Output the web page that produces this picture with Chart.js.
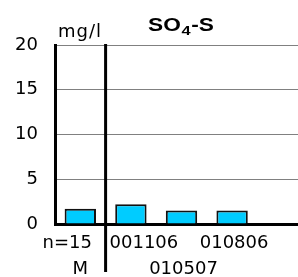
<!DOCTYPE html>
<html lang="de">
<head>
<meta charset="UTF-8">
<title>SO4-S</title>
<script src="https://cdn.jsdelivr.net/npm/chart.js"></script>
<style>
  html, body { margin: 0; padding: 0; background: #fff; overflow: hidden; }
  #wrap { width: 308px; height: 277px; }
</style>
</head>
<body>
<div id="wrap"><canvas id="grafico"></canvas></div>
<script>
// dados
const categorias = ['M', '001106', '010507', '010806', ''];
const linhasRotulo = [['n=15', 'M'], ['001106', ''], ['', '010507'], ['010806', ''], ['', '']];
const valoresSO4 = [1.7, 2.2, 1.5, 1.5, null];
const ticksY = [0, 5, 10, 15, 20];
const unidade = 'mg/l';

const fonte = "'DejaVu Sans', sans-serif";
const fonteTitulo = "'Liberation Sans', Arial, sans-serif";

// rótulos do eixo x, linha vertical, título
const desenhosExtras = {
  id: 'desenhosExtras',
  afterDraw(chart) {
    const ctx = chart.ctx;
    const x = chart.scales.x;
    const area = chart.chartArea;
    ctx.save();

    // linha que separa a média
    const xSep = (x.getPixelForValue(0) + x.getPixelForValue(1)) / 2;
    ctx.strokeStyle = '#000';
    ctx.lineWidth = 3;
    ctx.beginPath();
    ctx.moveTo(xSep, area.top - 1);
    ctx.lineTo(xSep, 272);
    ctx.stroke();

    // rótulos das categorias (duas linhas)
    const desloc = [[-13, 0], [13, 0], [0, 2], [2, 0], [0, 0]];
    ctx.fillStyle = '#000';
    ctx.font = '18px ' + fonte;
    ctx.textAlign = 'center';
    ctx.textBaseline = 'alphabetic';
    linhasRotulo.forEach((linhas, i) => {
      const cx = x.getPixelForValue(i);
      linhas.forEach((txt, j) => {
        if (!txt) return;
        ctx.fillText(txt, cx + desloc[i][j], area.bottom + 24 + j * 26);
      });
    });

    // unidade
    ctx.textAlign = 'left';
    ctx.letterSpacing = '1px';
    ctx.fillText(unidade, 58, 37);
    ctx.letterSpacing = '0px';

    // título SO4-S (fonte esticada na horizontal como no original)
    ctx.translate(148, 31);
    ctx.scale(1.26, 1);
    let px = 0;
    ctx.font = 'bold 18px ' + fonteTitulo;
    ctx.fillText('SO', px, 0);
    px += ctx.measureText('SO').width + 0.5;
    ctx.font = 'bold 13px ' + fonteTitulo;
    ctx.fillText('4', px, 4);
    px += ctx.measureText('4').width + 0.5;
    ctx.font = 'bold 18px ' + fonteTitulo;
    ctx.fillText('-S', px, 0);
    ctx.restore();
  }
};

new Chart(document.getElementById('grafico'), {
  type: 'bar',
  data: {
    labels: categorias,
    datasets: [{
      data: valoresSO4,
      backgroundColor: '#00CCFF',
      borderColor: '#111',
      borderWidth: 2,
      barPercentage: 0.62,
      categoryPercentage: 1
    }]
  },
  options: {
    responsive: true,
    maintainAspectRatio: false,
    animation: false,
    layout: { padding: { top: 45, left: 0, right: 0, bottom: 0 } },
    plugins: { legend: { display: false }, tooltip: { enabled: false }, title: { display: false } },
    scales: {
      x: {
        grid: { display: false },
        ticks: { display: false },
        border: { display: true, color: '#000', width: 3 },
        afterFit: s => { s.height = 53; }
      },
      y: {
        min: 0,
        max: 20,
        afterBuildTicks: s => { s.ticks = ticksY.map(v => ({ value: v })); },
        ticks: { color: '#000', font: { family: fonte, size: 18 }, padding: 17 },
        grid: { color: '#808080', lineWidth: 1, drawTicks: false },
        border: { display: true, color: '#000', width: 3 },
        afterFit: s => { s.width = 55; }
      }
    }
  },
  plugins: [desenhosExtras]
});
</script>
</body>
</html>
